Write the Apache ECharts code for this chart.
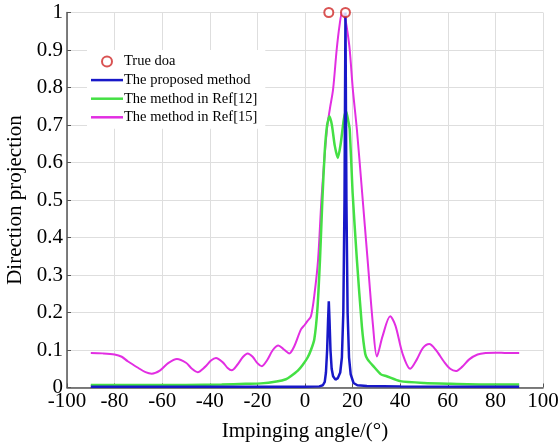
<!DOCTYPE html>
<html>
<head>
<meta charset="utf-8">
<script src="https://cdn.jsdelivr.net/npm/echarts@6/dist/echarts.min.js"></script>
<style>html,body{margin:0;padding:0;background:#fff}#c{width:558px;height:446px}</style>
</head>
<body>
<div id="c"></div>
<script>
const seriesNames = ['True doa', 'The proposed method', 'The method in Ref[12]', 'The method in Ref[15]'];
const xLabelName = 'Impinging angle/(°)';
const yLabelName = 'Direction projection';

const trueDoaX = [10, 17];
const trueDoaY = [1, 1];

const proposedX = [-90, -40, 0, 6, 7.5, 8.3, 8.8, 9.3, 9.7, 10, 10.3, 10.7, 11.2, 11.8, 12.8, 13.8, 14.8, 15.5, 16.1, 16.6, 17, 17.4, 17.9, 18.5, 19.2, 20.4, 22, 26, 40, 90];
const proposedY = [0.002, 0.002, 0.002, 0.003, 0.006, 0.015, 0.04, 0.1, 0.18, 0.23, 0.18, 0.1, 0.05, 0.03, 0.021, 0.025, 0.04, 0.08, 0.2, 0.5, 1.0, 0.5, 0.2, 0.08, 0.035, 0.012, 0.006, 0.004, 0.003, 0.002];

const ref12X = [-90, -70, -50, -35, -25, -18.5, -12, -8, -6, -3, -1, 1.1, 2.5, 3.9, 5.2, 6.3, 7.3, 8.3, 9.3, 10.3, 11.3, 12.5, 13.8, 15, 16.3, 17.3, 18.2, 18.8, 20, 21.8, 23.9, 25.3, 26.3, 28.7, 31.9, 34.3, 40, 50, 60, 75, 90];
const ref12Y = [0.007, 0.007, 0.007, 0.008, 0.01, 0.011, 0.016, 0.022, 0.03, 0.045, 0.06, 0.08, 0.1, 0.128, 0.208, 0.341, 0.5, 0.63, 0.7, 0.723, 0.7, 0.645, 0.612, 0.65, 0.715, 0.737, 0.71, 0.688, 0.52, 0.341, 0.163, 0.09, 0.075, 0.057, 0.035, 0.03, 0.017, 0.012, 0.01, 0.008, 0.008];

const ref15X = [-90, -85, -80, -77, -74.5, -70, -67, -64.4, -61, -57.5, -53.8, -50, -47.5, -45.1, -42, -39.5, -37.4, -34.5, -32.5, -30.8, -28.5, -26, -24.1, -22, -20, -18.1, -16, -13.5, -11.2, -9, -6.6, -4.5, -1.7, 0, 1, 2.5, 4, 5.5, 7, 9.2, 10.5, 11.8, 13.3, 14.5, 15.6, 16.8, 17.8, 18.8, 20.1, 21.8, 24, 26.3, 28.6, 30.2, 32.6, 35.8, 38, 41, 44.2, 47, 49.5, 52.2, 55, 58.5, 61, 63.4, 66, 69, 72.5, 76, 80, 85, 90];
const ref15Y = [0.092, 0.091, 0.088, 0.082, 0.07, 0.052, 0.041, 0.037, 0.045, 0.065, 0.076, 0.066, 0.05, 0.041, 0.055, 0.072, 0.079, 0.067, 0.052, 0.046, 0.06, 0.082, 0.091, 0.082, 0.065, 0.057, 0.072, 0.1, 0.112, 0.102, 0.091, 0.11, 0.155, 0.168, 0.177, 0.19, 0.25, 0.341, 0.51, 0.688, 0.745, 0.795, 0.9, 0.965, 1.0, 0.985, 0.95, 0.9, 0.795, 0.688, 0.52, 0.341, 0.163, 0.083, 0.137, 0.19, 0.165, 0.09, 0.05, 0.075, 0.105, 0.116, 0.1, 0.068, 0.05, 0.044, 0.055, 0.075, 0.088, 0.092, 0.093, 0.092, 0.092];

const xTicks = {min: -100, max: 100, step: 20};
const yTicks = {min: 0, max: 1, step: 0.1};

function pairs(xs, ys) { return xs.map((x, i) => [x, ys[i]]); }

const font = '"Liberation Serif", "Times New Roman", serif';
const lineIcon = 'path://M0,0H32V2.5H0Z';
const chart = echarts.init(document.getElementById('c'));
chart.setOption({
  animation: false,
  backgroundColor: '#fff',
  grid: {left: 67, right: 15, top: 12.5, bottom: 58.5, containLabel: false, outerBoundsMode: 'none'},
  legend: {
    data: [
      {name: seriesNames[0], icon: 'emptyCircle'},
      {name: seriesNames[1], icon: lineIcon},
      {name: seriesNames[2], icon: lineIcon},
      {name: seriesNames[3], icon: lineIcon}
    ],
    orient: 'vertical',
    left: 87, top: 50,
    itemWidth: 32, itemHeight: 10, itemGap: 3.6,
    symbolKeepAspect: true,
    padding: [4, 8, 4, 4],
    backgroundColor: '#fff',
    textStyle: {fontFamily: font, fontSize: 14.5, color: '#000', lineHeight: 15, padding: [0, 0, 0, -4]},
    selectedMode: false
  },
  xAxis: {
    type: 'value', min: xTicks.min, max: xTicks.max, interval: xTicks.step,
    name: xLabelName, nameLocation: 'middle', nameGap: 33,
    nameTextStyle: {fontFamily: font, fontSize: 21, color: '#000'},
    axisLine: {onZero: false, lineStyle: {color: '#555', width: 1.5}},
    axisTick: {inside: true, length: 4, lineStyle: {color: '#555'}},
    axisLabel: {fontFamily: font, fontSize: 21, color: '#000', margin: 3},
    splitLine: {show: true, lineStyle: {color: '#dedede', width: 1}}
  },
  yAxis: {
    type: 'value', min: yTicks.min, max: yTicks.max, interval: yTicks.step,
    name: yLabelName, nameLocation: 'middle', nameGap: 39,
    nameTextStyle: {fontFamily: font, fontSize: 21, color: '#000'},
    axisLine: {show: true, onZero: false, lineStyle: {color: '#555', width: 1.5}},
    axisTick: {show: true, inside: true, length: 4, lineStyle: {color: '#555'}},
    axisLabel: {fontFamily: font, fontSize: 21, color: '#000', margin: 4},
    splitLine: {show: true, lineStyle: {color: '#dedede', width: 1}}
  },
  series: [
    {name: seriesNames[3], type: 'line', data: pairs(ref15X, ref15Y), symbol: 'none', smooth: 0.3,
     lineStyle: {color: '#e22ee2', width: 2}, itemStyle: {color: '#e22ee2'}, z: 2},
    {name: seriesNames[2], type: 'line', data: pairs(ref12X, ref12Y), symbol: 'none', smooth: 0.2,
     lineStyle: {color: '#44e044', width: 2.5}, itemStyle: {color: '#44e044'}, z: 3},
    {name: seriesNames[1], type: 'line', data: pairs(proposedX, proposedY), symbol: 'none',
     lineStyle: {color: '#1818c8', width: 2.5}, itemStyle: {color: '#1818c8'}, z: 4},
    {name: seriesNames[0], type: 'scatter', data: pairs(trueDoaX, trueDoaY), symbol: 'emptyCircle', symbolSize: 9,
     clip: false, itemStyle: {color: '#d02828', borderWidth: 2}, z: 5}
  ]
});
</script>
</body>
</html>
